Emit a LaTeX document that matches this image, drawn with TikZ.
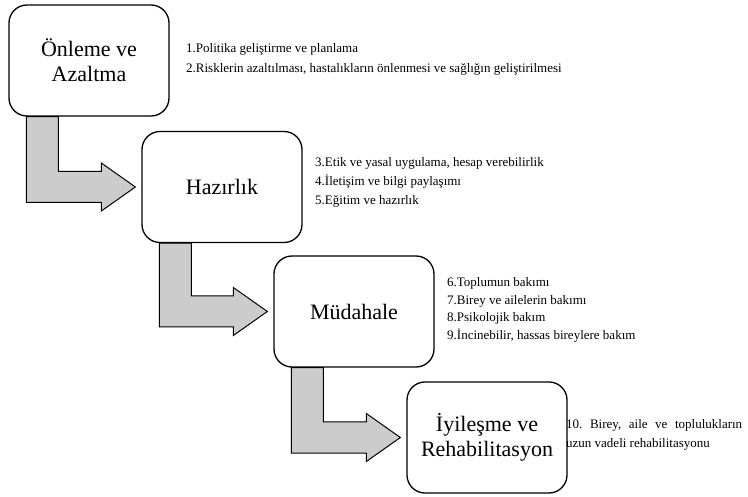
\documentclass[tikz,border=0pt]{standalone}
\usepackage{fontspec}
\setmainfont{Liberation Serif}
\usetikzlibrary{calc,backgrounds}
\frenchspacing
\tikzset{
  stage/.style={draw=black, line width=1.3pt, fill=white, rounded corners=18pt,
    minimum width=160pt, minimum height=111pt, inner sep=0pt, align=center,
    font=\fontsize{22}{25}\selectfont},
  notes/.style={anchor=west, inner sep=0pt, align=left},
  bent/.style={draw=black, line width=1pt, fill=gray!40, line join=miter}
}
\newcommand\bentarrow[2]{%
  \coordinate (a1) at ($(#1.south west)+(18,0)$);
  \coordinate (a2) at ($(#2.west)+(-40,0)$);
  \coordinate (tp) at ($(#2.west)+(-6,0)$);
  \path[bent] (a1) -- ++(32,0) -- ($(a1 |- tp)+(32,-15.5)$) -- ($(a2)+(0,-15.5)$)
    -- ($(a2)+(0,-24)$) -- (tp) -- ($(a2)+(0,24)$) -- ($(a2)+(0,15.5)$)
    -- ($(a1 |- tp)+(0,15.5)$) -- cycle;
}
\begin{document}
\begin{tikzpicture}[x=1pt,y=-1pt]
\useasboundingbox (0,0) rectangle (748,497);
\node[stage] (s1) at (89,60.5) {Önleme ve\\Azaltma};
\node[stage] (s2) at (222,187) {Hazırlık};
\node[stage] (s3) at (354,311.5) {Müdahale};
\node[stage] (s4) at (487,437.5) {İyileşme ve\\Rehabilitasyon};
\begin{scope}[on background layer]
  \bentarrow{s1}{s2}
  \bentarrow{s2}{s3}
  \bentarrow{s3}{s4}
\end{scope}
\node[notes, font=\fontsize{13}{20}\selectfont] (n1) at (186,59)
  {1.Politika geliştirme ve planlama\\2.Risklerin azaltılması, hastalıkların önlenmesi ve sağlığın geliştirilmesi};
\node[notes, font=\fontsize{13}{19}\selectfont] (n2) at (315,182)
  {3.Etik ve yasal uygulama, hesap verebilirlik\\4.İletişim ve bilgi paylaşımı\\5.Eğitim ve hazırlık};
\node[notes, font=\fontsize{13}{17.5}\selectfont] (n3) at (447,310)
  {6.Toplumun bakımı\\7.Birey ve ailelerin bakımı\\8.Psikolojik bakım\\9.İncinebilir, hassas bireylere bakım};
\node[notes, font=\fontsize{13}{19}\selectfont] (n4) at (566,434.5)
  {\makebox[176pt][s]{10. Birey, aile ve toplulukların}\\uzun vadeli rehabilitasyonu};
\end{tikzpicture}
\end{document}
